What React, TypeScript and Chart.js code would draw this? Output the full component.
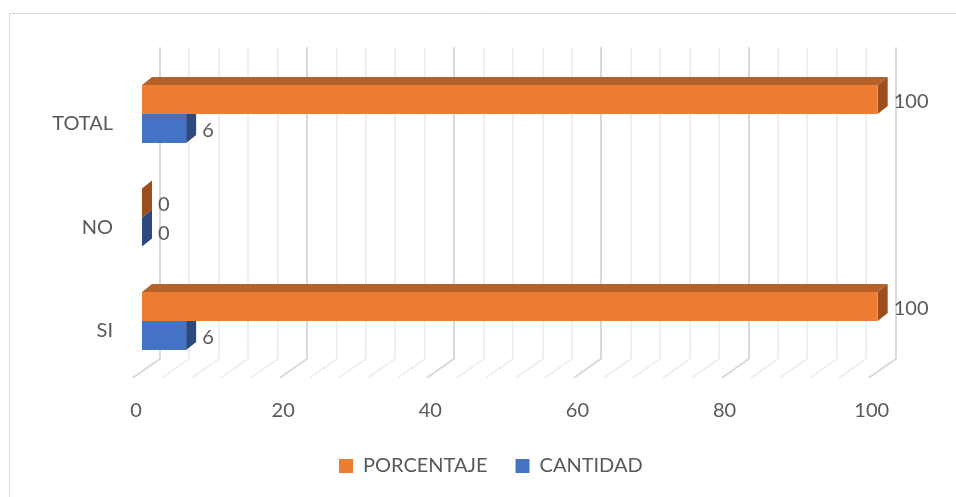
import React, { useEffect, useRef } from 'react';
import { Chart, registerables } from 'chart.js';

Chart.register(...registerables);

// ---- data ----
const categories = ['TOTAL', 'NO', 'SI'];
const porcentaje = [100, 0, 100];
const cantidad = [6, 0, 6];
const seriesNames = ['PORCENTAJE', 'CANTIDAD'];
const xMin = 0;
const xMax = 100;
const xMajorStep = 20;
const xMinorStep = 4;

// ---- style ----
const FONT_FAMILY = 'Lato, "Open Sans", sans-serif';
const TEXT_COLOR = '#595959';
const ORANGE = '#ED7D31';
const ORANGE_TOP = '#B6612A';
const ORANGE_SIDE = '#9C4F1D';
const BLUE = '#4472C4';
const BLUE_TOP = '#35599A';
const BLUE_SIDE = '#2B4A80';

const BAR_DX = 10;
const BAR_DY = 8;
const WALL_DX = 18;
const WALL_TOP_EXTRA = 15;
const WALL_BOTTOM_INSET = 14;
const FLOOR_DX = 27;
const FLOOR_DY = 19;

const W = 956;
const H = 497;
const PAD_LEFT = 25.7;
const PLOT_LEFT = 142;
const PLOT_RIGHT = 877.7;

const frame3d = {
  id: 'frame3d',
  beforeDraw(chart: any) {
    const ctx = chart.ctx;
    ctx.save();
    ctx.strokeStyle = '#d9d9d9';
    ctx.lineWidth = 1;
    ctx.beginPath();
    ctx.moveTo(9.5, H);
    ctx.lineTo(9.5, 13.5);
    ctx.lineTo(W, 13.5);
    ctx.stroke();
    ctx.restore();
  },
  beforeDatasetsDraw(chart: any) {
    const ctx = chart.ctx;
    const xs = chart.scales.x;
    const { top, bottom } = chart.chartArea;
    const wallTop = top - WALL_TOP_EXTRA;
    const wallBottom = bottom - WALL_BOTTOM_INSET;
    ctx.save();
    ctx.lineWidth = 2;
    for (let v = xMin; v <= xMax; v += xMinorStep) {
      const px = Math.round(xs.getPixelForValue(v) + WALL_DX);
      const major = v % xMajorStep === 0;
      ctx.strokeStyle = major ? '#d9d9d9' : '#efefef';
      ctx.beginPath();
      ctx.moveTo(px, wallTop);
      ctx.lineTo(px, wallBottom);
      ctx.lineTo(px - FLOOR_DX, wallBottom + FLOOR_DY);
      ctx.stroke();
    }
    ctx.restore();
  },
  afterDatasetDraw(chart: any, args: any) {
    const ctx = chart.ctx;
    const meta = args.meta;
    const isOrange = args.index === 0;
    const topC = isOrange ? ORANGE_TOP : BLUE_TOP;
    const sideC = isOrange ? ORANGE_SIDE : BLUE_SIDE;
    ctx.save();
    meta.data.forEach((bar: any) => {
      const { x, y, base, height } = bar.getProps(['x', 'y', 'base', 'height'], true);
      const t = y - height / 2;
      const b = y + height / 2;
      ctx.fillStyle = topC;
      ctx.beginPath();
      ctx.moveTo(base, t);
      ctx.lineTo(base + BAR_DX, t - BAR_DY);
      ctx.lineTo(x + BAR_DX, t - BAR_DY);
      ctx.lineTo(x, t);
      ctx.closePath();
      ctx.fill();
      ctx.fillStyle = sideC;
      ctx.beginPath();
      ctx.moveTo(x, t);
      ctx.lineTo(x + BAR_DX, t - BAR_DY);
      ctx.lineTo(x + BAR_DX, b - BAR_DY);
      ctx.lineTo(x, b);
      ctx.closePath();
      ctx.fill();
    });
    ctx.restore();
  },
  afterDatasetsDraw(chart: any) {
    const ctx = chart.ctx;
    ctx.save();
    ctx.font = `20px ${FONT_FAMILY}`;
    ctx.fillStyle = TEXT_COLOR;
    ctx.textAlign = 'left';
    ctx.textBaseline = 'middle';
    chart.data.datasets.forEach((ds: any, di: number) => {
      const meta = chart.getDatasetMeta(di);
      meta.data.forEach((bar: any, i: number) => {
        const { x, y } = bar.getProps(['x', 'y'], true);
        ctx.fillText(String(ds.data[i]), x + 16, y + 2);
      });
    });
    ctx.restore();
  },
};

export default function App() {
  const ref = useRef<HTMLCanvasElement | null>(null);
  useEffect(() => {
    if (!ref.current) return;
    const font = { family: FONT_FAMILY, size: 20 };
    const chart = new Chart(ref.current, {
      type: 'bar',
      data: {
        labels: categories,
        datasets: [
          { label: seriesNames[0], data: porcentaje, backgroundColor: ORANGE, borderWidth: 0 },
          { label: seriesNames[1], data: cantidad, backgroundColor: BLUE, borderWidth: 0 },
        ],
      },
      options: {
        indexAxis: 'y',
        responsive: false,
        animation: false,
        devicePixelRatio: 1,
        layout: { padding: { left: PAD_LEFT, right: 0, top: 62.25, bottom: 11 } },
        datasets: { bar: { categoryPercentage: 0.56, barPercentage: 1 } },
        scales: {
          x: {
            type: 'linear',
            min: xMin,
            max: xMax,
            grid: { display: false },
            border: { display: false },
            ticks: { stepSize: xMajorStep, font, color: TEXT_COLOR, padding: 18, labelOffset: -6 },
            afterFit: (s: any) => { s.height = 55.25; },
          },
          y: {
            type: 'category',
            grid: { display: false },
            border: { display: false },
            ticks: { font, color: TEXT_COLOR, padding: 21, labelOffset: 10 },
            afterFit: (s: any) => { s.width = PLOT_LEFT - PAD_LEFT; },
          },
          yRight: {
            type: 'category',
            position: 'right',
            grid: { display: false },
            border: { display: false },
            ticks: { display: false },
            afterFit: (s: any) => { s.width = W - PLOT_RIGHT; },
          },
        },
        plugins: {
          legend: {
            position: 'bottom',
            labels: { font, color: TEXT_COLOR, boxWidth: 14, boxHeight: 14, padding: 28 },
          },
          tooltip: { enabled: false },
        },
      },
      plugins: [frame3d],
    } as any);
    return () => chart.destroy();
  }, []);
  return (
    <div style={{ position: 'absolute', left: 0, top: 0, width: W, height: H, background: '#fff' }}>
      <canvas ref={ref} width={W} height={H} style={{ display: 'block' }} />
    </div>
  );
}
